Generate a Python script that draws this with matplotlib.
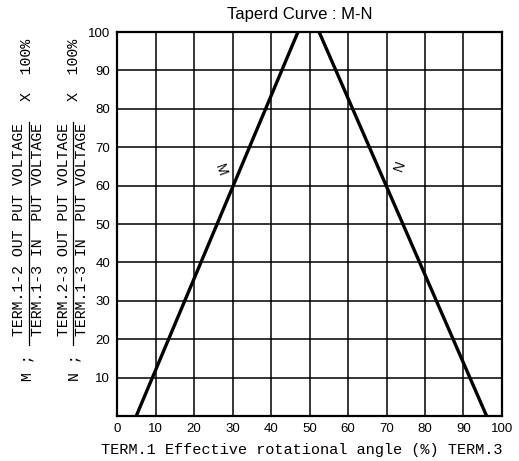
import matplotlib.pyplot as plt
from matplotlib.lines import Line2D

# taper curves M and N (x = rotational angle %, y = output %)
m_x = [5, 47]
m_y = [0, 100]
n_x = [52.5, 96]
n_y = [100, 0]
ticks = [0, 10, 20, 30, 40, 50, 60, 70, 80, 90, 100]

W, H = 519, 461
fig = plt.figure(figsize=(W / 100, H / 100), dpi=100)
ax = fig.add_axes([117 / W, 1 - 416 / H, 385 / W, 384 / H])

ax.plot(m_x, m_y, color='black', lw=2.4, solid_capstyle='butt', zorder=3)
ax.plot(n_x, n_y, color='black', lw=2.4, solid_capstyle='butt', zorder=3)
ax.set_xlim(0, 100)
ax.set_ylim(0, 100)
ax.set_xticks(ticks)
ax.set_yticks(ticks[1:])
ax.grid(True, color='black', lw=1.1)
ax.tick_params(length=0, labelsize=9.5, pad=5)
for lab in ax.get_xticklabels() + ax.get_yticklabels():
    lab.set_family('Liberation Sans')
for s in ax.spines.values():
    s.set_linewidth(1.6)

ax.text(26.8, 64, 'M', rotation=-70, ha='center', va='center', fontsize=10, family='Liberation Sans')
ax.text(73.5, 65, 'N', rotation=70, ha='center', va='center', fontsize=10, family='Liberation Sans')

fig.text(300 / W, 1 - 14 / H, 'Taperd Curve : M-N', ha='center', va='center',
         fontsize=12, family='Liberation Sans')

mono = dict(family='Liberation Mono', fontsize=10.7, rotation=90, ha='center', va='center')


def fy(py):
    return 1 - py / H


# y-axis label: two fractions
for letter, xn, xd, xb, xs, num, den in [
        ('M', 19, 38, 28.5, 27, 'TERM.1-2 OUT PUT VOLTAGE', 'TERM.1-3 IN  PUT VOLTAGE'),
        ('N', 64, 82, 73, 74, 'TERM.2-3 OUT PUT VOLTAGE', 'TERM.1-3 IN  PUT VOLTAGE')]:
    fig.text(xn / W, fy(230), num, **mono)
    fig.text(xd / W, fy(230), den, **mono)
    fig.add_artist(Line2D([xb / W, xb / W], [fy(122), fy(345)], color='black', lw=0.9))
    fig.text(xs / W, fy(368), letter + ' ;', **mono)
    fig.text(xs / W, fy(70), 'X  100%', **mono)

fig.text(302 / W, fy(450), 'TERM.1 Effective rotational angle (%) TERM.3',
         family='Liberation Mono', fontsize=11, ha='center', va='center')

fig.savefig('out.png', dpi=100)
